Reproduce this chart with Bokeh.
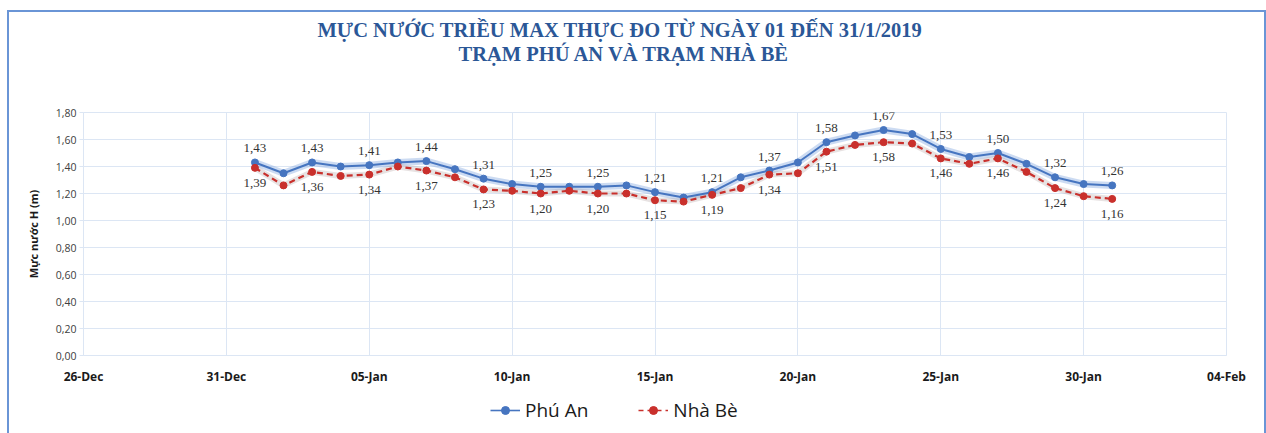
from bokeh.plotting import figure
from bokeh.layouts import column
from bokeh.models import (ColumnDataSource, Range1d, FixedTicker, LabelSet,
                          Legend, LegendItem, Title)
from bokeh.embed import file_html
from bokeh.resources import INLINE
from bokeh.core.properties import value

# ---------------- data ----------------
days = list(range(1, 32))  # 1..31 January 2019 (0 = 31-Dec)
phu_an = [1.43, 1.35, 1.43, 1.40, 1.41, 1.43, 1.44, 1.38, 1.31, 1.27,
          1.25, 1.25, 1.25, 1.26, 1.21, 1.17, 1.21, 1.32, 1.37, 1.43,
          1.58, 1.63, 1.67, 1.64, 1.53, 1.47, 1.50, 1.42, 1.32, 1.27, 1.26]
nha_be = [1.39, 1.26, 1.36, 1.33, 1.34, 1.40, 1.37, 1.32, 1.23, 1.22,
          1.20, 1.22, 1.20, 1.20, 1.15, 1.14, 1.19, 1.24, 1.34, 1.35,
          1.51, 1.56, 1.58, 1.57, 1.46, 1.42, 1.46, 1.36, 1.24, 1.18, 1.16]
series_names = ["Phú An", "Nhà Bè"]

x_ticks = [-5, 0, 5, 10, 15, 20, 25, 30, 35]
x_tick_labels = ["26-Dec", "31-Dec", "05-Jan", "10-Jan", "15-Jan",
                 "20-Jan", "25-Jan", "30-Jan", "04-Feb"]
y_ticks = [0.0, 0.2, 0.4, 0.6, 0.8, 1.0, 1.2, 1.4, 1.6, 1.8]
y_tick_labels = ["0,00", "0,20", "0,40", "0,60", "0,80", "1,00",
                 "1,20", "1,40", "1,60", "1,80"]
title_lines = ["MỰC NƯỚC TRIỀU MAX THỰC ĐO TỪ NGÀY 01 ĐẾN 31/1/2019",
               "TRẠM PHÚ AN VÀ TRẠM NHÀ BÈ"]
y_title = "Mực nước H (m)"

# ---------------- styles ----------------
BLUE = "#4675C0"
RED = "#C9302C"
GRID = "#DCE6F4"
SANS = "Open Sans"
SERIF = "Liberation Serif"
TOTAL_W = 74 + 1143 + 38

p = figure(frame_width=1143, frame_height=243, output_backend="svg",
           toolbar_location=None,
           x_range=Range1d(-5, 35), y_range=Range1d(0, 1.8), title=None,
           min_border_left=74, min_border_right=38, min_border_top=100,
           min_border_bottom=30)
p.background_fill_color = "white"
p.border_fill_color = "white"
p.outline_line_color = GRID

# titles (first added = closest to plot); blank spacer first
spacer = Title(text=" ", text_color="white", text_font_size="18px", standoff=26)
t2 = Title(text=title_lines[1], align="left", offset=375, standoff=0,
           text_font=SERIF, text_font_size="20.5px", text_font_style="bold",
           text_color="#2B5797")
t1 = Title(text=title_lines[0], align="left", offset=234, standoff=0,
           text_font=SERIF, text_font_size="20.5px", text_font_style="bold",
           text_color="#2B5797")
p.add_layout(spacer, "above")
p.add_layout(t2, "above")
p.add_layout(t1, "above")

# grids
p.xgrid.ticker = FixedTicker(ticks=x_ticks)
p.ygrid.ticker = FixedTicker(ticks=y_ticks)
p.xgrid.grid_line_color = GRID
p.ygrid.grid_line_color = GRID

# x axis
p.xaxis.ticker = FixedTicker(ticks=x_ticks)
p.xaxis.major_label_overrides = {t: l for t, l in zip(x_ticks, x_tick_labels)}
p.xaxis.axis_line_color = GRID
p.xaxis.major_tick_line_color = None
p.xaxis.minor_tick_line_color = None
p.xaxis.major_label_standoff = 6
p.xaxis.major_label_text_font = SANS
p.xaxis.major_label_text_font_size = "12px"
p.xaxis.major_label_text_font_style = "bold"
p.xaxis.major_label_text_color = "#1A1A1A"

# y axis
p.yaxis.ticker = FixedTicker(ticks=y_ticks)
p.yaxis.major_label_overrides = {t: l for t, l in zip(y_ticks, y_tick_labels)}
p.yaxis.axis_line_color = GRID
p.yaxis.major_tick_line_color = GRID
p.yaxis.major_tick_out = 4
p.yaxis.major_tick_in = 0
p.yaxis.minor_tick_line_color = None
p.yaxis.major_label_standoff = 3
p.yaxis.major_label_text_font = SANS
p.yaxis.major_label_text_font_size = "10.5px"
p.yaxis.major_label_text_color = "#404040"
p.yaxis.axis_label = y_title
p.yaxis.axis_label_text_font = SANS
p.yaxis.axis_label_text_font_size = "11px"
p.yaxis.axis_label_text_font_style = "bold"
p.yaxis.axis_label_text_color = "#1A1A1A"
p.yaxis.axis_label_standoff = 12

# glow lines
p.line(days, phu_an, line_color="#8FB0E3", line_width=7, line_alpha=0.45)
p.line(days, nha_be, line_color="#B0A0A0", line_width=6, line_alpha=0.3)

# series
p.line(days, phu_an, line_color=BLUE, line_width=2)
p.scatter(days, phu_an, size=7, fill_color=BLUE, line_color=BLUE)
p.line(days, nha_be, line_color=RED, line_width=2.2, line_dash="6 4")
p.scatter(days, nha_be, size=7, fill_color=RED, line_color=RED)

# data labels on odd days
def fmt(v):
    return f"{v:.2f}".replace(".", ",")

odd = [i for i, d in enumerate(days) if d % 2 == 1]
src_pa = ColumnDataSource(dict(x=[days[i] for i in odd],
                               y=[phu_an[i] for i in odd],
                               t=[fmt(phu_an[i]) for i in odd]))
src_nb = ColumnDataSource(dict(x=[days[i] for i in odd],
                               y=[nha_be[i] for i in odd],
                               t=[fmt(nha_be[i]) for i in odd]))
for src, off in ((src_pa, 14), (src_nb, -15)):
    p.add_layout(LabelSet(x="x", y="y", text="t", source=src,
                          text_align="center", text_baseline="middle",
                          y_offset=off, text_font=value(SERIF),
                          text_font_size="13px", text_color="#333333"))

# ---------------- legend strip (separate figure below) ----------------
lp = figure(width=TOTAL_W, height=48, output_backend="svg",
            toolbar_location=None, min_border=0,
            x_range=Range1d(-5, 35), y_range=Range1d(100, 101), title=None)
lp.axis.visible = False
lp.grid.visible = False
lp.outline_line_color = None
lp.background_fill_color = "white"
lp.border_fill_color = "white"
# same series drawn outside the visible range; they only feed the legend
lr1 = lp.line(days, phu_an, line_color=BLUE, line_width=1.6)
ls1 = lp.scatter(days, phu_an, size=6, fill_color=BLUE, line_color=BLUE)
lr2 = lp.line(days, nha_be, line_color=RED, line_width=1.6, line_dash="5 4")
ls2 = lp.scatter(days, nha_be, size=6, fill_color=RED, line_color=RED)

legend = Legend(items=[LegendItem(label=series_names[0], renderers=[lr1, ls1]),
                       LegendItem(label=series_names[1], renderers=[lr2, ls2])],
                orientation="horizontal", location=(407, 12),
                label_text_font=SANS, label_text_font_size="19px",
                label_text_color="#1A1A1A", glyph_width=30, spacing=50,
                border_line_color=None, background_fill_alpha=0,
                margin=0, padding=4)
lp.add_layout(legend, "center")

layout = column(p, lp, spacing=0,
                styles={"border": "2px solid #6A95D6",
                        "margin": "10px 0 0 7px",
                        "background": "white"})

open("out.html", "w").write(file_html(layout, INLINE))
